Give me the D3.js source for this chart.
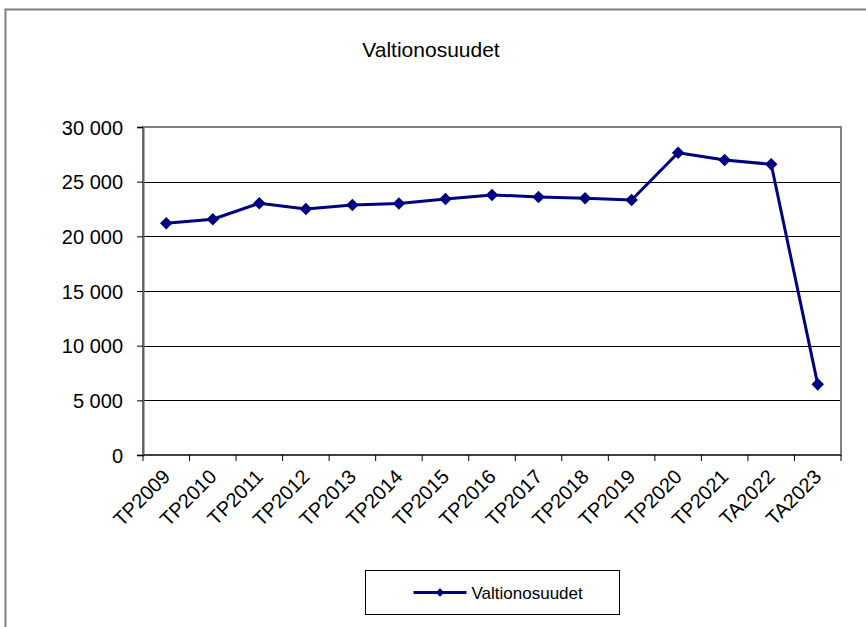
<!DOCTYPE html>
<html>
<head>
<meta charset="utf-8">
<script src="https://cdn.jsdelivr.net/npm/d3@7"></script>
<style>
  body { margin: 0; background: #fff; }
  text { font-family: "Liberation Sans", Arial, sans-serif; }
</style>
</head>
<body>
<div id="chart-area"></div>
<script>
// data
var categories = ["TP2009", "TP2010", "TP2011", "TP2012", "TP2013", "TP2014", "TP2015",
    "TP2016", "TP2017", "TP2018", "TP2019", "TP2020", "TP2021", "TA2022", "TA2023"];
var values = [21190, 21560, 23030, 22500, 22870, 23000, 23420,
    23790, 23600, 23480, 23320, 27650, 26980, 26590, 6460];
var yTicks = [0, 5000, 10000, 15000, 20000, 25000, 30000];
var seriesName = "Valtionosuudet";

var W = 866, H = 627;
var margin = { left: 143, right: 25, top: 127, bottom: 172 };
var width = W - margin.left - margin.right,
    height = H - margin.top - margin.bottom;

var svg = d3.select("#chart-area")
    .append("svg")
        .attr("width", W)
        .attr("height", H);

// outer chart frame
svg.append("rect")
    .attr("x", 5.5).attr("y", 9.5)
    .attr("width", W).attr("height", H)
    .attr("fill", "none")
    .attr("stroke", "#808080")
    .attr("stroke-width", 2);

// title
svg.append("text")
    .attr("x", 431)
    .attr("y", 57)
    .attr("text-anchor", "middle")
    .attr("font-size", "21px")
    .text(seriesName);

var g = svg.append("g")
    .attr("transform", "translate(" + margin.left + ", " + margin.top + ")");

// scales
var x = d3.scaleBand()
    .domain(categories)
    .range([0, width]);

var y = d3.scaleLinear()
    .domain([0, 30000])
    .range([height, 0]);

// gridlines
g.selectAll(".grid")
    .data(yTicks.slice(1, -1))
    .enter().append("line")
        .attr("class", "grid")
        .attr("x1", 0).attr("x2", width)
        .attr("y1", function(d){ return Math.round(y(d)) + 0.5; })
        .attr("y2", function(d){ return Math.round(y(d)) + 0.5; })
        .attr("stroke", "#000")
        .attr("stroke-width", 1);

// plot frame (top/right grey)
g.append("rect")
    .attr("x", 0).attr("y", 0)
    .attr("width", width).attr("height", height)
    .attr("fill", "none")
    .attr("stroke", "#808080")
    .attr("stroke-width", 2);

// Y axis
var yAxisCall = d3.axisLeft(y)
    .tickValues(yTicks)
    .tickSize(6)
    .tickFormat(function(d){ return d3.format(",")(d).replace(",", " "); });
var yAxisGroup = g.append("g")
    .attr("class", "y axis")
    .call(yAxisCall);
yAxisGroup.select(".domain").attr("stroke", "#606060").attr("stroke-width", 2);
yAxisGroup.selectAll(".tick line").attr("stroke", "#000");
yAxisGroup.selectAll("text")
    .attr("font-size", "20px")
    .attr("fill", "#000")
    .attr("x", -20)
    .attr("dy", "0.35em")
    .attr("font-family", "Liberation Sans, Arial, sans-serif");

// X axis (ticks on band boundaries)
var xAxisGroup = g.append("g")
    .attr("class", "x axis")
    .attr("transform", "translate(0," + height + ")");
xAxisGroup.append("line")
    .attr("x1", 0).attr("x2", width)
    .attr("stroke", "#404040").attr("stroke-width", 2);
xAxisGroup.selectAll(".xtick")
    .data(categories.concat(["end"]))
    .enter().append("line")
        .attr("class", "xtick")
        .attr("x1", function(d, i){ return i * x.step(); })
        .attr("x2", function(d, i){ return i * x.step(); })
        .attr("y1", 0).attr("y2", 6)
        .attr("stroke", "#000");
xAxisGroup.selectAll(".xlabel")
    .data(categories)
    .enter().append("text")
        .attr("class", "xlabel")
        .attr("font-size", "20px")
        .attr("text-anchor", "end")
        .attr("transform", function(d){
            return "translate(" + (x(d) + x.bandwidth() / 2 + 5) + ",23) rotate(-45)";
        })
        .text(function(d){ return d; });

// line
var line = d3.line()
    .x(function(d, i){ return x(categories[i]) + x.bandwidth() / 2; })
    .y(function(d){ return y(d); });

g.append("path")
    .datum(values)
    .attr("fill", "none")
    .attr("stroke", "#000080")
    .attr("stroke-width", 3)
    .attr("stroke-linejoin", "round")
    .attr("d", line);

var diamond = d3.symbol().type(d3.symbolDiamond2).size(100);
g.selectAll(".marker")
    .data(values)
    .enter().append("path")
        .attr("class", "marker")
        .attr("d", diamond)
        .attr("fill", "#000080")
        .attr("transform", function(d, i){
            return "translate(" + (x(categories[i]) + x.bandwidth() / 2) + "," + y(d) + ")";
        });

// legend
var lg = svg.append("g").attr("transform", "translate(365.5,570.5)");
lg.append("rect")
    .attr("width", 254).attr("height", 44)
    .attr("fill", "#fff")
    .attr("stroke", "#000").attr("stroke-width", 1);
lg.append("line")
    .attr("x1", 48).attr("x2", 101)
    .attr("y1", 22).attr("y2", 22)
    .attr("stroke", "#000080").attr("stroke-width", 3);
lg.append("path")
    .attr("d", d3.symbol().type(d3.symbolDiamond2).size(45))
    .attr("fill", "#000080")
    .attr("transform", "translate(74.5,22)");
lg.append("text")
    .attr("x", 106).attr("y", 28)
    .attr("font-size", "17px")
    .text(seriesName);
</script>
</body>
</html>
